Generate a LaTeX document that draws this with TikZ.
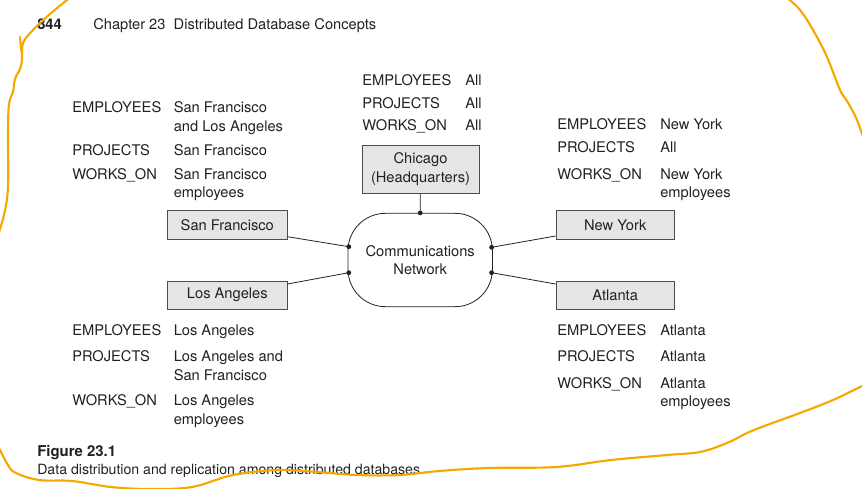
\documentclass[tikz,border=0pt]{standalone}
\usepackage{fontspec}
\setmainfont{TeX Gyre Heros}
\usetikzlibrary{calc}

\definecolor{boxgray}{gray}{0.9}
\definecolor{ink}{gray}{0.13}
\definecolor{marker}{rgb}{0.96,0.66,0.0}
\newcommand{\datafont}{\fontsize{11}{13.7}\selectfont}
\newcommand{\twolines}[2]{\begin{tabular}[t]{@{}l@{}}#1\\#2\end{tabular}}

\tikzset{
	site/.style={draw=black!70, fill=boxgray, line width=0.6pt, inner sep=0pt, text=ink, font=\datafont},
	field/.style={anchor=base west, inner sep=0pt, text=ink, font=\datafont},
	link/.style={ink, line width=0.6pt},
	joint/.style={circle, fill=ink, inner sep=0pt, minimum size=3.6pt},
	scribble/.style={marker, line width=1.6pt, line cap=round, line join=round}
}

\begin{document}
\begin{tikzpicture}[x=0.75pt, y=-0.75pt]
	\useasboundingbox (0,0) rectangle (862,488);
	
	% page header
	\node[field, font=\datafont\bfseries] (page) at (37, 30) {844};
	\node[field] (chapter) at (93, 30) {Chapter 23\ \ Distributed Database Concepts};
	
	% sites
	\node[site, align=center, minimum width=87.8pt, minimum height=36pt] (chi) at (420.5, 169) {Chicago\\(Headquarters)};
	\node[site, minimum width=89.6pt, minimum height=21.2pt] (sf) at (227.3, 224.9) {San Francisco};
	\node[site, minimum width=89.6pt, minimum height=21.2pt] (la) at (227.3, 295.2) {Los Angeles};
	\node[site, minimum width=88.8pt, minimum height=21.2pt] (ny) at (615.2, 224.9) {New York};
	\node[site, minimum width=88.8pt, minimum height=21.2pt] (atl) at (615.2, 295.2) {Atlanta};
	
	\node[draw=ink, line width=0.6pt, rounded corners=28pt, align=center, text=ink, font=\datafont,
		minimum width=108.3pt, minimum height=70pt] (net) at (420.2, 260) {Communications\\Network};
	
	% joints on the network
	\node[joint] (jtop) at (net.north) {};
	\node[joint] (jsf) at ($(net.west)+(1.2,-13.3)$) {};
	\node[joint] (jla) at ($(net.west)+(1.2,12.7)$) {};
	\node[joint] (jny) at ($(net.east)+(-1.2,-12.7)$) {};
	\node[joint] (jatl) at ($(net.east)+(-1.2,12.7)$) {};
	
	\coordinate (sfout) at ($(sf.east)+(0,11.8)$);
	\coordinate (laout) at ($(la.east)+(0,-11.2)$);
	\coordinate (nyout) at ($(ny.west)+(0,11.1)$);
	\coordinate (atlout) at ($(atl.west)+(0,-11.2)$);
	
	\draw[link] (chi) -- (jtop.center);
	\draw[link] (sfout) -- (jsf.center);
	\draw[link] (laout) -- (jla.center);
	\draw[link] (nyout) -- (jny.center);
	\draw[link] (atlout) -- (jatl.center);
	
	% Chicago fragments
	\node[field] (chiemp) at (362, 85.9) {EMPLOYEES};
	\node[field] (chiempv) at (465, 85.9) {All};
	\node[field] (chiproj) at (362, 108.5) {PROJECTS};
	\node[field] (chiprojv) at (465, 108.5) {All};
	\node[field] (chiwork) at (362, 130.9) {WORKS\_ON};
	\node[field] (chiworkv) at (465, 130.9) {All};
	
	% San Francisco fragments
	\node[field] (sfemp) at (72, 112.9) {EMPLOYEES};
	\node[field] (sfempv) at (173.5, 112.9) {\twolines{San Francisco}{and Los Angeles}};
	\node[field] (sfproj) at (72, 155.9) {PROJECTS};
	\node[field] (sfprojv) at (173.5, 155.9) {San Francisco};
	\node[field] (sfwork) at (72, 179.2) {WORKS\_ON};
	\node[field] (sfworkv) at (173.5, 179.2) {\twolines{San Francisco}{employees}};
	
	% New York fragments
	\node[field] (nyemp) at (557, 129.2) {EMPLOYEES};
	\node[field] (nyempv) at (660, 129.2) {New York};
	\node[field] (nyproj) at (557, 152.5) {PROJECTS};
	\node[field] (nyprojv) at (660, 152.5) {All};
	\node[field] (nywork) at (557, 179.2) {WORKS\_ON};
	\node[field] (nyworkv) at (660, 179.2) {\twolines{New York}{employees}};
	
	% Los Angeles fragments
	\node[field] (laemp) at (72, 335.2) {EMPLOYEES};
	\node[field] (laempv) at (173.5, 335.2) {Los Angeles};
	\node[field] (laproj) at (72, 361.9) {PROJECTS};
	\node[field] (laprojv) at (173.5, 361.9) {\twolines{Los Angeles and}{San Francisco}};
	\node[field] (lawork) at (72, 405.9) {WORKS\_ON};
	\node[field] (laworkv) at (173.5, 405.9) {\twolines{Los Angeles}{employees}};
	
	% Atlanta fragments
	\node[field] (atlemp) at (557, 335.2) {EMPLOYEES};
	\node[field] (atlempv) at (660, 335.2) {Atlanta};
	\node[field] (atlproj) at (557, 361.9) {PROJECTS};
	\node[field] (atlprojv) at (660, 361.9) {Atlanta};
	\node[field] (atlwork) at (557, 388.5) {WORKS\_ON};
	\node[field] (atlworkv) at (660, 388.5) {\twolines{Atlanta}{employees}};
	
	% caption
	\node[field, font=\fontsize{11.2}{13}\selectfont\bfseries] (fignum) at (37, 456.5) {Figure 23.1};
	\node[field, font=\fontsize{10.6}{13}\selectfont] (figtext) at (37, 474.5) {Data distribution and replication among distributed databases.};
	
	% hand-drawn marker loop
	\draw[scribble] plot[smooth, tension=0.6] coordinates {(72,-4) (50,14) (33,30) (24,41) (22,50) (22,60) (20,69) (15,79) (13,92) (9,104) (8,133) (8,187) (4,215) (-3,238)};
	\draw[scribble] (20,37) -- (21.5,52);
	\draw[scribble] plot[smooth, tension=0.6] coordinates {(-3,444) (8,465) (16,473) (39,480) (72,481) (111,487) (150,489) (192,487) (233,475) (278,470) (317,472) (356,475) (400,475) (439,471) (489,468) (556,467) (611,460) (667,455) (700,452) (727,443) (747,433) (767,425) (800,413) (833,400) (866,384)};
	\draw[scribble] plot[smooth, tension=0.6] coordinates {(785,-4) (800,10) (813,30) (827,57) (840,90) (847,101) (857,120) (866,146)};
	
\end{tikzpicture}
\end{document}
